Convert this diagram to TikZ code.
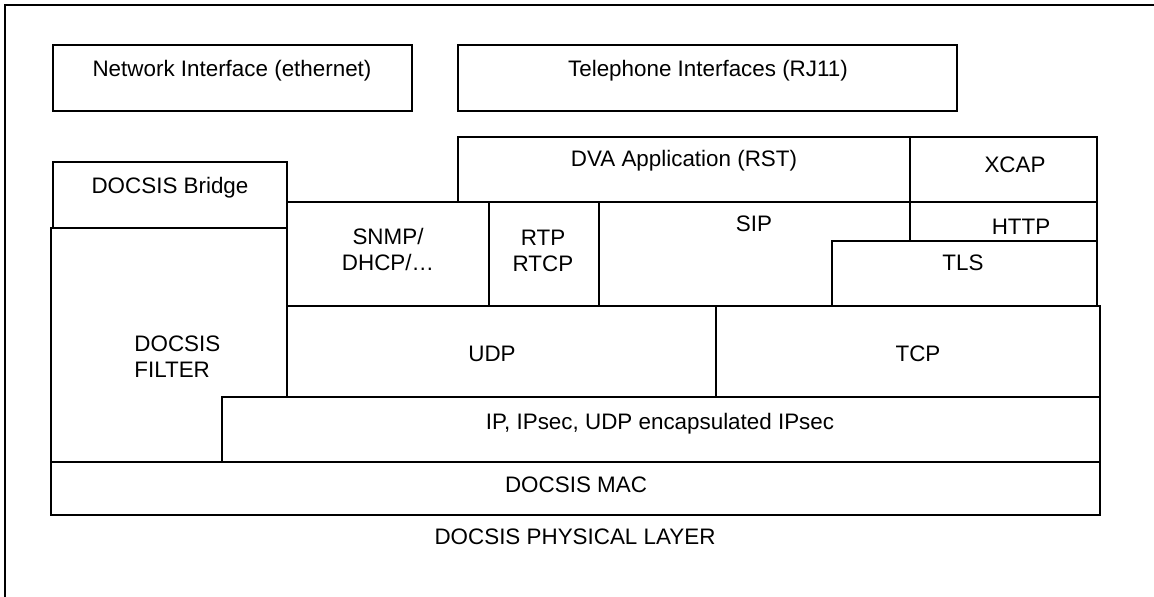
\documentclass[tikz,border=0pt]{standalone}
\usepackage{fontspec}
\setmainfont{Liberation Sans}
\usetikzlibrary{fit}
\begin{document}
\begin{tikzpicture}[x=0.5pt,y=-0.5pt,
  box/.style={draw, line width=1pt, fill=white, inner sep=0pt},
  txt/.style={inner sep=0pt, anchor=base, font=\fontsize{11.2}{13}\selectfont},
  frame/.style={line width=1pt}]
\useasboundingbox (0,0) rectangle (1154,597);
\coordinate (fa) at (1154,5);
\coordinate (fb) at (5,5);
\coordinate (fc) at (5,597);
\draw[frame] (fa) -- (fb) -- (fc);
% boxes
\node[box, fit={(53,45)(412,111)}] (net) {};
\node[box, fit={(458,45)(957,111)}] (tel) {};
\node[box, fit={(53,162)(287,228)}] (bridge) {};
\node[box, fit={(458,137)(910,202)}] (dva) {};
\node[box, fit={(910,137)(1097,202)}] (xcap) {};
\node[box, fit={(287,202)(489,306)}] (snmp) {};
\node[box, fit={(489,202)(599,306)}] (rtp) {};
\node[box, fit={(599,202)(910,306)}] (sip) {};
\node[box, fit={(910,202)(1097,241)}] (http) {};
\node[box, fit={(832,241)(1097,306)}] (tls) {};
\node[box, fit={(287,306)(716,397)}] (udp) {};
\node[box, fit={(716,306)(1100,397)}] (tcp) {};
\node[box, fit={(51,228)(287,462)}] (filter) {};
\node[box, fit={(222,397)(1100,462)}] (ip) {};
\node[box, fit={(51,462)(1100,515)}] (mac) {};
% texts
\node[txt] (nett) at (232,77) {Network Interface (ethernet)};
\node[txt] (telt) at (708,77) {Telephone Interfaces (RJ11)};
\node[txt] (bridget) at (170,194) {DOCSIS Bridge};
\node[txt] (dvat) at (684,167) {DVA Application (RST)};
\node[txt] (xcapt) at (1015,173) {XCAP};
\node[txt] (httpt) at (1021,235) {HTTP};
\node[txt] (tlst) at (963,271) {TLS};
\node[txt] (sipt) at (754,232) {SIP};
\node[txt] (rtpt) at (543,246) {\begin{tabular}[t]{@{}c@{}}RTP\\RTCP\end{tabular}};
\node[txt] (snmpt) at (388,245) {\begin{tabular}[t]{@{}c@{}}SNMP/\\DHCP/…\end{tabular}};
\node[txt, anchor=base west] (filtert) at (134,352) {\begin{tabular}[t]{@{}l@{}}DOCSIS\\FILTER\end{tabular}};
\node[txt] (udpt) at (492,362) {UDP};
\node[txt] (tcpt) at (918,362) {TCP};
\node[txt] (ipt) at (660,430) {IP, IPsec, UDP encapsulated IPsec};
\node[txt] (mact) at (576,493) {DOCSIS MAC};
\node[txt] (phyt) at (575,544) {DOCSIS PHYSICAL LAYER};
\end{tikzpicture}
\end{document}
